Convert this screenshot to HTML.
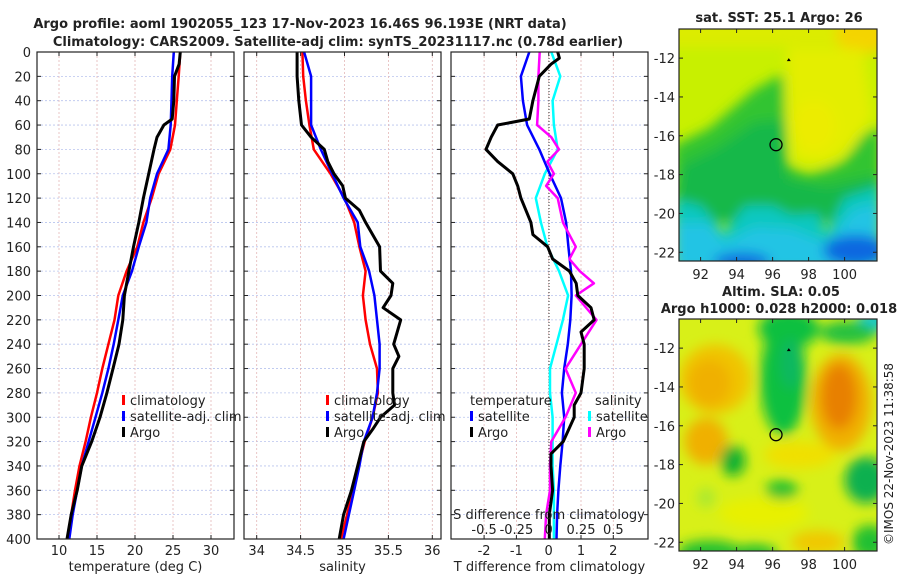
<!DOCTYPE html>
<html><head><meta charset="utf-8">
<style>
body{margin:0;background:#fff;width:900px;height:580px;overflow:hidden}
svg text{font-family:"DejaVu Sans","Liberation Sans",sans-serif;fill:#222}
</style></head>
<body>
<svg id="c" width="900" height="580" xmlns="http://www.w3.org/2000/svg">
<defs>
<filter id="bl" x="-50%" y="-50%" width="200%" height="200%"><feGaussianBlur stdDeviation="6"/></filter>
<clipPath id="m1"><rect x="679" y="29" width="198" height="232"/></clipPath>
<clipPath id="m2"><rect x="679" y="319" width="198" height="232"/></clipPath>
</defs>
<text x="300" y="28" font-size="13" font-weight="bold" text-anchor="middle">Argo profile: aoml 1902055_123 17-Nov-2023 16.46S 96.193E (NRT data)</text>
<text x="338" y="46" font-size="13" font-weight="bold" text-anchor="middle">Climatology: CARS2009. Satellite-adj clim: synTS_20231117.nc (0.78d earlier)</text>
<g id="g"></g>
<text x="779" y="22" font-size="13" font-weight="bold" text-anchor="middle">sat. SST: 25.1 Argo: 26</text>
<text x="781" y="296" font-size="13" font-weight="bold" text-anchor="middle">Altim. SLA: 0.05</text>
<text x="779" y="313" font-size="13" font-weight="bold" text-anchor="middle">Argo h1000: 0.028 h2000: 0.018</text>
<text transform="translate(893,545) rotate(-90)" font-size="12">©IMOS 22-Nov-2023 11:38:58</text>
</svg>
<script>
// ---- data ----
const depths = [0,20,40,60,80,100,120,140,160,180,200,220,240,260,280,300,320,340,360,380,400];
const tClim = [25.96,25.75,25.5,25.26,24.65,23.1,22.2,21.1,20.3,18.9,17.8,17.3,16.5,15.7,15.0,14.2,13.5,12.7,12.1,11.6,11.1];
const tSat = [25.1,24.9,24.8,24.7,24.4,22.9,22.0,21.5,20.5,19.6,18.4,17.8,17.2,16.5,15.7,14.8,13.9,13.0,12.4,11.8,11.35];
const tArgoDepths = [0,10,20,40,55,60,70,80,100,120,140,160,180,200,220,240,260,280,300,320,340,360,380,400];
const tArgo = [25.96,25.8,25.2,25.1,24.9,23.8,22.9,22.5,21.8,21.1,20.5,19.8,19.2,18.6,18.4,17.9,17.1,16.3,15.4,14.3,13.0,12.4,11.6,11.05];
const sClim = [34.52,34.53,34.56,34.60,34.65,34.84,35.0,35.11,35.17,35.24,35.21,35.24,35.29,35.37,35.38,35.32,35.23,35.16,35.09,35.03,34.96];
const sSat = [34.54,34.62,34.62,34.62,34.73,34.86,34.99,35.15,35.18,35.28,35.34,35.37,35.40,35.40,35.37,35.32,35.22,35.17,35.11,35.05,34.99];
const sArgoDepths = [0,20,40,60,70,80,90,100,110,120,130,140,160,180,190,200,210,220,240,250,260,280,290,300,310,320,340,360,380,400];
const sArgo = [34.46,34.46,34.48,34.51,34.62,34.77,34.81,34.88,34.98,35.01,35.17,35.24,35.40,35.41,35.55,35.53,35.44,35.64,35.56,35.62,35.55,35.55,35.57,35.41,35.32,35.22,35.15,35.08,34.99,34.94];
const dtSat = [-0.60,-0.86,-0.80,-0.67,-0.29,0.03,0.38,0.54,0.61,0.69,0.71,0.67,0.59,0.48,0.41,0.48,0.43,0.36,0.30,0.26,0.24];
const dtArgoDepths = [0,5,10,20,40,55,60,70,80,90,100,110,120,140,150,160,170,180,190,200,210,220,230,240,260,280,290,300,320,330,340,360,380,400];
const dtArgo = [0.28,0.33,0.07,-0.29,-0.49,-0.60,-1.58,-1.78,-1.94,-1.58,-1.11,-0.96,-0.86,-0.55,-0.49,-0.03,0.12,0.64,0.85,0.90,1.31,1.41,1.0,1.10,1.10,1.0,0.79,0.79,0.45,0.07,0.07,0.12,0.02,0.02];
const dsSat = [0.02,0.09,0.03,0.04,0.07,-0.03,-0.10,-0.06,-0.01,0.08,0.15,0.11,0.06,0.01,0.01,0.03,0.03,0.03,0.04,0.04,0.04];
const dsArgoDepths = [0,20,40,60,70,80,90,100,110,120,140,160,170,180,190,200,220,240,260,280,300,320,340,360,380,400];
const dsArgo = [-0.07,-0.08,-0.08,-0.09,0.02,0.08,-0.01,0.04,-0.02,0.07,0.11,0.21,0.16,0.24,0.35,0.21,0.37,0.25,0.13,0.21,0.13,0.02,0.01,0.01,-0.02,-0.03];
const depthTicks = [0,20,40,60,80,100,120,140,160,180,200,220,240,260,280,300,320,340,360,380,400];
const tTicks = [10,15,20,25,30];
const sTicks = [34,34.5,35,35.5,36];
const dTicks = [-2,-1,0,1,2];
const dsTicks = [-0.5,-0.25,0,0.25,0.5];
const lonTicks = [92,94,96,98,100];
const latTicks = [-12,-14,-16,-18,-20,-22];

const NS='http://www.w3.org/2000/svg';
const G=document.getElementById('g');
function el(t,a,p){const e=document.createElementNS(NS,t);for(const k in a)e.setAttribute(k,a[k]);(p||G).appendChild(e);return e;}
function txt(x,y,s,sz,anc,p){const e=el('text',{x:x,y:y,'font-size':sz,'text-anchor':anc||'middle'},p);e.textContent=s;return e;}

const Y0=52,Y1=539;
const yD=d=>Y0+(d/400)*(Y1-Y0);
function lin(d0,d1,r0,r1){return v=>r0+(v-d0)/(d1-d0)*(r1-r0);}

const panels=[
 {x0:37,x1:234,sx:lin(10,15,59,97),ticks:tTicks,lab:'temperature (deg C)',name:'temperature-panel'},
 {x0:244,x1:441,sx:lin(34,36,256.7,432.3),ticks:sTicks,lab:'salinity',name:'salinity-panel'},
 {x0:451,x1:648,sx:lin(0,1,548.7,581),ticks:dTicks,lab:'T difference from climatology',name:'difference-panel'}
];
panels.forEach((P,i)=>{
 const g=el('g',{});
 
 
 depthTicks.forEach(d=>{
  const l=el('line',{x1:P.x0,x2:P.x1,y1:yD(d),y2:yD(d),stroke:'#b8c4ee','stroke-width':0.8,'stroke-dasharray':'2,2'},g);
  
  
  el('line',{x1:P.x0,x2:P.x0+4,y1:yD(d),y2:yD(d),stroke:'#222'},g);
  el('line',{x1:P.x1,x2:P.x1-4,y1:yD(d),y2:yD(d),stroke:'#222'},g);
  if(i==0){const t=txt(31,yD(d)+5,String(d),13,'end',g);}
 });
 P.ticks.forEach(v=>{
  const x=P.sx(v);
  el('line',{x1:x,x2:x,y1:Y0,y2:Y1,stroke:'#e4b8b8','stroke-width':0.8,'stroke-dasharray':'2,2'},g);
  el('line',{x1:x,x2:x,y1:Y1,y2:Y1-4,stroke:'#222'},g);
  el('line',{x1:x,x2:x,y1:Y0,y2:Y0+4,stroke:'#222'},g);
  const t=txt(x,Y1+16,String(v),13,'middle',g);
  
  
 });
 const lb=txt((P.x0+P.x1)/2,Y1+32,P.lab,13,'middle',g);
 
 
});
el('line',{x1:549,x2:549,y1:Y0,y2:Y1,stroke:'#333','stroke-width':1,'stroke-dasharray':'1,2'});

function line(sx,dep,vals,color,name,w){
 const pts=vals.map((v,k)=>sx(v).toFixed(1)+','+yD(dep[k]).toFixed(1)).join(' ');
 const p=el('polyline',{points:pts,fill:'none',stroke:color,'stroke-width':w||2.5,'stroke-linejoin':'round'});
 
 
}
const P1=panels[0].sx,P2=panels[1].sx,P3=panels[2].sx,PS=lin(0,0.25,548.7,581);
line(P1,depths,tClim,'#f00','temperature-climatology-line');
line(P1,depths,tSat,'#00f','temperature-satellite-line');
line(P1,tArgoDepths,tArgo,'#000','temperature-argo-line',3);
line(P2,depths,sClim,'#f00','salinity-climatology-line');
line(P2,depths,sSat,'#00f','salinity-satellite-line');
line(P2,sArgoDepths,sArgo,'#000','salinity-argo-line',3);
line(PS,depths,dsSat,'#00ffff','s-diff-satellite-line');
line(P3,depths,dtSat,'#00f','t-diff-satellite-line');
line(PS,dsArgoDepths,dsArgo,'#f0f','s-diff-argo-line');
line(P3,dtArgoDepths,dtArgo,'#000','t-diff-argo-line',3);

panels.forEach(P=>{el('rect',{x:P.x0,y:Y0,width:P.x1-P.x0,height:Y1-Y0,fill:'none',stroke:'#222','stroke-width':1.2});});

const sdl=txt(549,519,'S difference from climatology',13,'middle');


dsTicks.forEach(v=>{const t=txt(PS(v),534,String(v),13,'middle');
 
 });

function legend(x,y,items,name){
 const g=el('g',{});
 
 
 items.forEach((it,k)=>{
  const yy=y+k*16;
  if(it[1])el('rect',{x:x,y:yy-10,width:3,height:10,fill:it[1]},g);
  txt(x+(it[1]?8:0),yy,it[0],13,'start',g);
 });
}
legend(122,405,[['climatology','#f00'],['satellite-adj. clim','#00f'],['Argo','#000']],'temperature-legend');
legend(326,405,[['climatology','#f00'],['satellite-adj. clim','#00f'],['Argo','#000']],'salinity-legend');
legend(470,405,[['temperature',null],['satellite','#00f'],['Argo','#000']],'t-diff-legend');
legend(595,405,[['salinity',null]],'s-diff-legend-title');
legend(588,421,[['satellite','#00ffff'],['Argo','#f0f']],'s-diff-legend');

// maps
const lonX=lin(90.8,101.8,679,877);
function map(top,clip,base,shapes,name){
 const latY=lin(-10.5,-22.45,top,top+232);
 const g=el('g',{'clip-path':'url(#'+clip+')'});
 
 
 el('rect',{x:679,y:top,width:198,height:232,fill:base},g);
 const b=el('g',{filter:'url(#bl)'},g);
 shapes.forEach(o=>{
  if(o[0]=='e')el('ellipse',{cx:lonX(o[1]),cy:latY(o[2]),rx:o[3]*17.9,ry:o[4]*19.4,fill:o[5]},b);
  else el('polygon',{points:o[1].map(p=>lonX(p[0]).toFixed(1)+','+latY(p[1]).toFixed(1)).join(' '),fill:o[2]},b);
 });
 el('circle',{cx:lonX(96.19),cy:latY(-16.46),r:6,fill:'none',stroke:'#000','stroke-width':1.3},g);
 el('path',{d:`M${lonX(96.9)-2} ${latY(-12.1)+1}l2 -3l2 3z`,fill:'#000'},g);
 el('rect',{x:679,y:top,width:198,height:232,fill:'none',stroke:'#222','stroke-width':1.2});
 lonTicks.forEach(v=>{const x=lonX(v);
  el('line',{x1:x,x2:x,y1:top+232,y2:top+228,stroke:'#222'});
  el('line',{x1:x,x2:x,y1:top,y2:top+4,stroke:'#222'});
  const t=txt(x,top+250,String(v),13,'middle');
  
  });
 latTicks.forEach(v=>{const y=latY(v);
  el('line',{x1:679,x2:683,y1:y,y2:y,stroke:'#222'});
  el('line',{x1:877,x2:873,y1:y,y2:y,stroke:'#222'});
  const t=txt(675,y+5,String(v),13,'end');
  
  });
}
map(29,'m1','#c8f000',[
 ['p',[[90,-10],[102,-10],[102,-11.4],[90,-11.4]],'#dcec00'],
 ['e',101,-10.8,1.5,1,'#f4d400'],
 ['p',[[96.8,-11.5],[101,-11.5],[101.5,-15],[100.5,-16.5],[99,-17.5],[97.2,-17.3],[96.8,-15]],'#e4ee00'],
 ['e',98.3,-15.5,1.2,1.3,'#ecec00'],
 ['p',[[90.5,-16.5],[92.5,-15.6],[94,-14.4],[95,-13.6],[96.6,-12.8],[96.8,-17.5],[98,-18],[100,-17.3],[101,-16],[102,-15.5],[102,-20],[90.5,-20]],'#30c430'],
 ['p',[[91,-17.5],[93,-16.6],[95,-15.3],[96.6,-15.2],[96.8,-18.2],[99,-18.6],[102,-18],[102,-20.5],[90.5,-20.5]],'#18b848'],
 ['p',[[90.5,-19.3],[92,-19.6],[93.3,-21],[94.5,-19.6],[96,-19.6],[97,-20.1],[98.5,-20],[99,-21],[100,-19.2],[102,-18.6],[102,-23],[90.5,-23]],'#10c8c0'],
 ['p',[[90.5,-20.5],[92.5,-20.5],[93.3,-21.5],[95,-20.7],[97,-20.8],[99,-21.5],[100.5,-19.8],[102,-19.5],[102,-23],[90.5,-23]],'#20c4e4'],
 ['e',94.3,-22.5,1.6,0.5,'#1070e0'],
 ['e',100.6,-21.9,1.8,0.8,'#1068e0']
],'sst-map');
map(319,'m2','#d8f018',[
 ['e',92.8,-13.6,2,1.8,'#f0c400'],['e',92.5,-13.8,1.2,1.2,'#f0b000'],['e',92.3,-16.8,1.2,1.2,'#f0b000'],
 ['e',97.5,-17.5,2,0.7,'#f0e000'],['e',95.5,-20.5,2.5,0.8,'#e8f000'],['e',98.5,-22,1.5,0.6,'#f0c800'],
 ['e',99.8,-14.8,1.7,2.5,'#f0b000'],['e',99.7,-14.5,1,1.7,'#e88000'],
 ['e',96.6,-13.6,1.3,2.9,'#10c040'],['e',96.9,-11,1.7,1,'#10c040'],['e',97.0,-12.8,0.6,1.3,'#10b860'],
 ['e',101.6,-10.6,0.9,0.5,'#10c8d8'],['e',100.2,-11.2,1.6,0.6,'#20c040'],
 ['e',93.8,-17.8,0.7,0.8,'#10b030'],['e',96.5,-19.3,0.9,0.5,'#20c030'],['e',101.2,-18.8,1.2,1.2,'#10b050'],
 ['e',92.5,-22.5,1.8,0.6,'#20c030'],['e',95,-22.6,1.3,0.5,'#20c030'],['e',101.4,-22,1,0.9,'#20c030'],['e',92.3,-19.7,0.5,0.5,'#a8e830']
],'sla-map');
</script>
</body></html>
